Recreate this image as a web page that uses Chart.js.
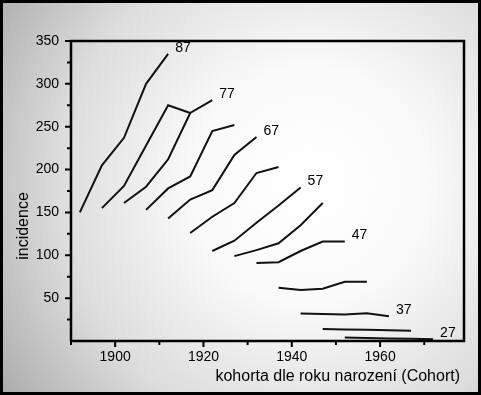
<!DOCTYPE html>
<html><head><meta charset="utf-8">
<script src="https://cdn.jsdelivr.net/npm/chart.js@4/dist/chart.umd.min.js"></script>
<style>html,body{margin:0;padding:0;background:#fff;}canvas{display:block;}</style>
</head><body>
<canvas id="c" width="481" height="395"></canvas>
<script>
// Cohort (year of birth) categories, 5-year steps
const cohortYears = [1892,1897,1902,1907,1912,1917,1922,1927,1932,1937,1942,1947,1952,1957,1962,1967,1972];
// Age groups; series k starts at cohortYears[k] and spans 5 cohorts
const ageGroups = [87,82,77,72,67,62,57,52,47,42,37,32,27];
const labelledAges = [87,77,67,57,47,37,27];
// incidence values per age group
const inc87 = [150,205,237,300,335];
const inc82 = [155,181,228,275,266];
const inc77 = [161,180,212,266,281];
const inc72 = [153,178,192,245,252];
const inc67 = [143,165,176,217,238];
const inc62 = [126,145,161,196,203];
const inc57 = [105,117,138,158,179];
const inc52 = [99,106,114,135,161];
const inc47 = [91,92,105,116,116];
const inc42 = [62,59.5,61,69,69];
const inc37 = [32,31.5,31,32.5,29];
const inc32 = [14,13.5,13,12.5,12];
const inc27 = [4,3.5,3,2.5,2];
const seriesValues = [inc87,inc82,inc77,inc72,inc67,inc62,inc57,inc52,inc47,inc42,inc37,inc32,inc27];
// axis ticks
const xMajorTicks = [1900,1920,1940,1960];
const xMinorTicks = [1890,1910,1930,1950,1970];
const yMajorTicks = [50,100,150,200,250,300,350];
const yMinorTicks = [25,75,125,175,225,275,325];
const xTitle = 'kohorta dle roku narození (Cohort)';
const yTitle = 'incidence';

const FONT = '"Liberation Sans", Arial, sans-serif';

const datasets = ageGroups.map((age, k) => ({
  label: String(age),
  data: seriesValues[k].map((v, i) => ({x: cohortYears[k + i], y: v})),
  borderColor: '#111',
  borderWidth: 2,
  pointRadius: 0,
  tension: 0,
  fill: false,
  clip: false
}));

const decor = {
  id: 'decor',
  beforeDraw(chart) {
    const ctx = chart.ctx, W = chart.width, H = chart.height;
    ctx.save();
    const g = ctx.createRadialGradient(310, 185, 0, 310, 185, 390);
    g.addColorStop(0, '#ffffff');
    g.addColorStop(0.3, '#fafafa');
    g.addColorStop(0.65, '#dcdcdc');
    g.addColorStop(1, '#a4a4a4');
    ctx.fillStyle = g;
    ctx.fillRect(0, 0, W, H);
    ctx.strokeStyle = '#000';
    ctx.lineWidth = 3;
    ctx.strokeRect(1.5, 1.5, W - 3, H - 3);
    ctx.restore();
  },
  afterDraw(chart) {
    const ctx = chart.ctx, a = chart.chartArea;
    const xs = chart.scales.x, ys = chart.scales.y;
    ctx.save();
    ctx.strokeStyle = '#000';
    ctx.lineCap = 'butt';
    // frame
    ctx.lineWidth = 2.5;
    ctx.beginPath();
    ctx.moveTo(a.left, a.bottom); ctx.lineTo(a.left, a.top); ctx.lineTo(a.right, a.top);
    ctx.lineTo(a.right, a.bottom); ctx.lineTo(a.left - 1, a.bottom);
    ctx.stroke();
    // ticks
    ctx.lineWidth = 2;
    ctx.beginPath();
    yMajorTicks.forEach(v => { const p = ys.getPixelForValue(v); ctx.moveTo(a.left, p); ctx.lineTo(a.left - 6, p); });
    yMinorTicks.forEach(v => { const p = ys.getPixelForValue(v); ctx.moveTo(a.left, p); ctx.lineTo(a.left - 4, p); });
    xMajorTicks.forEach(v => { const p = xs.getPixelForValue(v); ctx.moveTo(p, a.bottom); ctx.lineTo(p, a.bottom + 6); });
    xMinorTicks.forEach(v => { const p = xs.getPixelForValue(v); ctx.moveTo(p, a.bottom); ctx.lineTo(p, a.bottom + 4); });
    ctx.stroke();
    // series labels
    ctx.fillStyle = '#000';
    ctx.font = '14px ' + FONT;
    ctx.textAlign = 'left';
    ctx.textBaseline = 'middle';
    chart.data.datasets.forEach(ds => {
      if (!labelledAges.includes(Number(ds.label))) return;
      const last = ds.data[ds.data.length - 1];
      const px = xs.getPixelForValue(last.x), py = ys.getPixelForValue(last.y);
      ctx.fillText(ds.label, px + 7, py - 6);
    });
    // axis titles
    ctx.font = '16px ' + FONT;
    ctx.textAlign = 'right';
    ctx.fillText(xTitle, a.right - 4, 377);
    ctx.save();
    ctx.translate(24, 226);
    ctx.rotate(-Math.PI / 2);
    ctx.textAlign = 'center';
    ctx.fillText(yTitle, 0, 0);
    ctx.restore();
    ctx.restore();
  }
};

new Chart(document.getElementById('c'), {
  type: 'line',
  data: { datasets },
  options: {
    responsive: false,
    animation: false,
    events: [],
    layout: { padding: { left: 0, top: 41, right: 17, bottom: 0 } },
    plugins: { legend: { display: false }, tooltip: { enabled: false }, title: { display: false } },
    scales: {
      x: {
        type: 'linear', min: 1890, max: 1979,
        grid: { display: false, drawTicks: false, tickLength: 0 },
        border: { display: false },
        afterBuildTicks: s => { s.ticks = xMajorTicks.map(v => ({ value: v })); },
        afterFit: s => { s.height = 54; },
        ticks: { color: '#000', font: { family: FONT, size: 14 }, padding: 8, autoSkip: false, maxRotation: 0, callback: v => String(v) }
      },
      y: {
        type: 'linear', min: 0, max: 350,
        grid: { display: false, drawTicks: false, tickLength: 0 },
        border: { display: false },
        afterBuildTicks: s => { s.ticks = yMajorTicks.map(v => ({ value: v })); },
        afterFit: s => { s.width = 71; },
        ticks: { color: '#000', font: { family: FONT, size: 14 }, padding: 12, callback: v => String(v) }
      }
    }
  },
  plugins: [decor]
});
</script>
</body></html>
